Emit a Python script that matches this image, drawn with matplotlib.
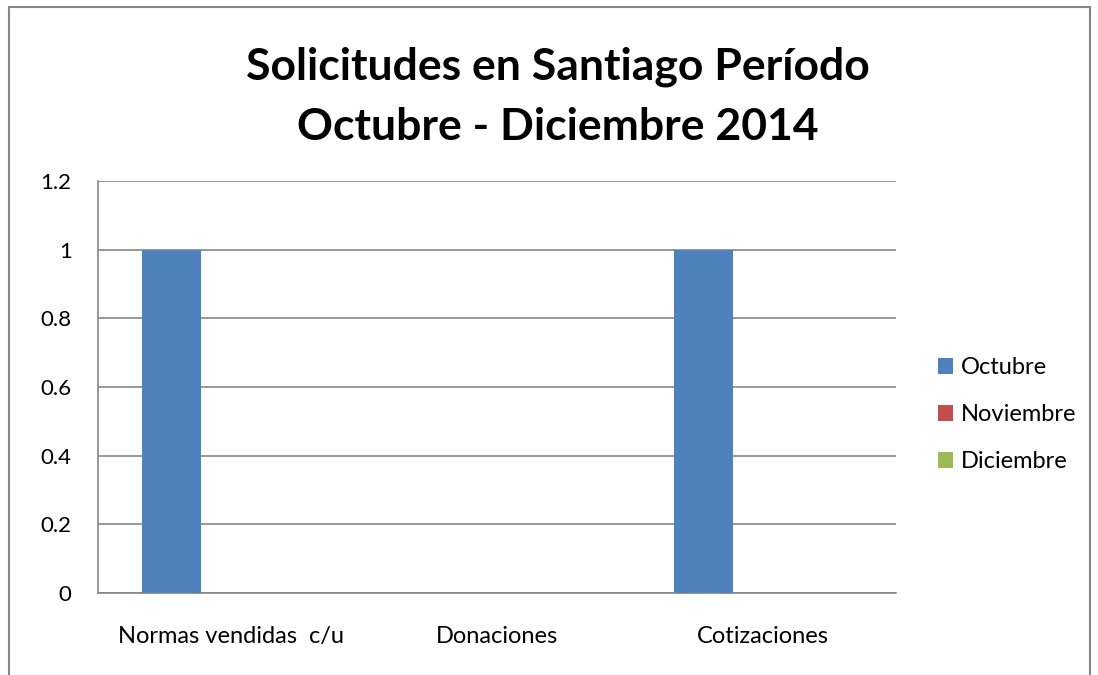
import matplotlib.pyplot as plt
import numpy as np
from matplotlib.patches import Rectangle

# Data
categories = ['Normas vendidas  c/u', 'Donaciones', 'Cotizaciones']
series_names = ['Octubre', 'Noviembre', 'Diciembre']
octubre = [1, 0, 1]
noviembre = [0, 0, 0]
diciembre = [0, 0, 0]
colors = ['#4F81BD', '#C0504D', '#9BBB59']

plt.rcParams['font.family'] = ['Lato', 'DejaVu Sans']

W, H = 1098, 675
fig = plt.figure(figsize=(W / 100, H / 100), dpi=100)

# Outer chart border
fig.patches.append(Rectangle((9 / W, -0.05), (1090 - 9) / W, 1.05 - 7 / H,
                             transform=fig.transFigure, fill=False,
                             edgecolor='#868686', linewidth=1.5))

ax = fig.add_axes([98 / W, (H - 593) / H, 798 / W, 412 / H])

x = np.arange(len(categories))
bw = 0.222
for i, (vals, name) in enumerate(zip([octubre, noviembre, diciembre], series_names)):
    ax.bar(x + (i - 1) * bw, vals, width=bw, color=colors[i], label=name, zorder=3)

ax.set_xlim(-0.5, 2.5)
ax.set_ylim(0, 1.2)
ax.set_yticks(np.arange(0, 1.21, 0.2))
ax.set_yticklabels(['0', '0.2', '0.4', '0.6', '0.8', '1', '1.2'])
ax.set_xticks(x)
ax.set_xticklabels(categories)
ax.tick_params(axis='both', length=0)
ax.tick_params(axis='x', pad=24, labelsize=17)
ax.tick_params(axis='y', pad=19, labelsize=16)
ax.grid(axis='y', color='#868686', linewidth=1.2, zorder=0)
for s in ['top', 'right']:
    ax.spines[s].set_visible(False)
for s in ['left', 'bottom']:
    ax.spines[s].set_color('#868686')
    ax.spines[s].set_linewidth(1.2)

fig.text(558 / W, 1 - 97 / H, 'Solicitudes en Santiago Período\nOctubre - Diciembre 2014',
         ha='center', va='center', fontsize=32, fontweight='bold', linespacing=1.6)

fig.legend(loc='upper left', bbox_to_anchor=(917 / W, 1 - 336 / H), frameon=False,
           fontsize=17, handlelength=0.64, handleheight=0.64, handletextpad=0.3,
           labelspacing=1.1)

fig.savefig('out.png', dpi=100)
